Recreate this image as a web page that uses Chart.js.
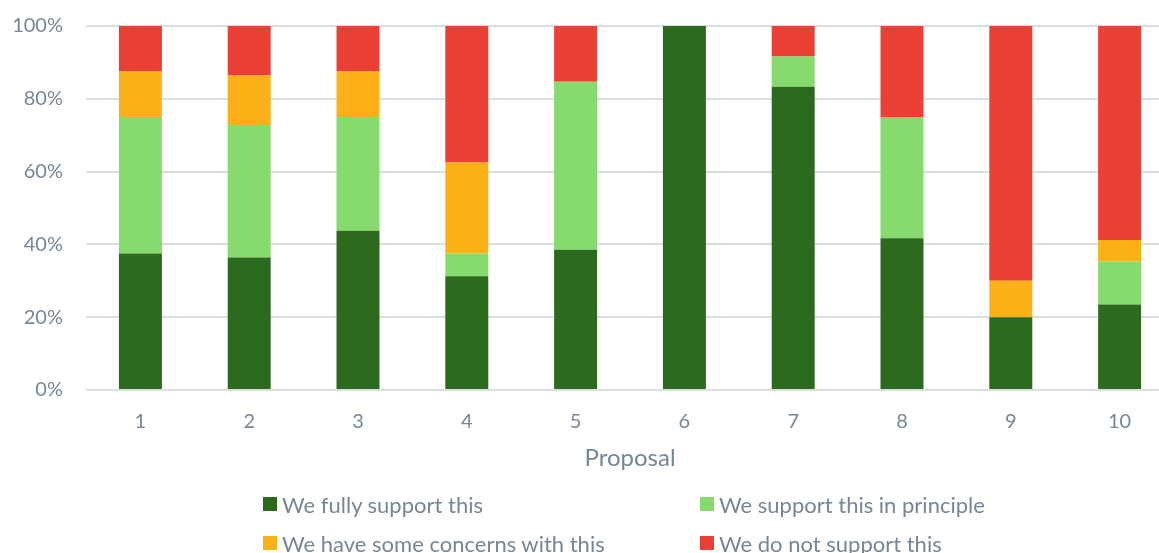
<!DOCTYPE html>
<html><head><meta charset="utf-8">
<script src="https://cdn.jsdelivr.net/npm/chart.js@4"></script>
<style>
html,body{margin:0;padding:0;background:#fff;overflow:hidden;width:1159px;height:553px;}
#wrap{position:absolute;left:0;top:-9px;width:1180px;height:562px;}
#legend{position:absolute;left:0;top:0;width:1159px;height:553px;pointer-events:none;font-family:Lato,sans-serif;font-size:22px;color:#758797;}
.li{position:absolute;display:flex;align-items:center;white-space:nowrap;}
.sw{width:14px;height:14px;margin-right:5px;display:inline-block;}
</style></head>
<body>
<div id="wrap"><canvas id="c" width="1180" height="562"></canvas></div>
<div id="legend"></div>
<script>
const categories = ['1','2','3','4','5','6','7','8','9','10'];
const seriesNames = ['We fully support this','We support this in principle','We have some concerns with this','We do not support this'];
const fullySupport = [37.5, 36.4, 43.75, 31.25, 38.5, 100, 83.3, 41.7, 20, 23.5];
const supportPrinciple = [37.5, 36.4, 31.25, 6.25, 46.2, 0, 8.35, 33.3, 0, 11.8];
const someConcerns = [12.5, 13.6, 12.5, 25, 0, 0, 0, 0, 10, 5.9];
const notSupport = [12.5, 13.6, 12.5, 37.5, 15.3, 0, 8.35, 25, 70, 58.8];
const yTicks = [0, 20, 40, 60, 80, 100];
const colors = ['#2c6a1d', '#86da6e', '#fdb118', '#ea4035'];
const seriesData = [fullySupport, supportPrinciple, someConcerns, notSupport];

const fontFam = 'Lato, sans-serif';
const tickColor = '#758797';

const chart = new Chart(document.getElementById('c'), {
  type: 'bar',
  data: {
    labels: categories,
    datasets: seriesNames.map((n, i) => ({
      label: n, data: seriesData[i], backgroundColor: colors[i], borderWidth: 0,
      categoryPercentage: 0.395, barPercentage: 1
    }))
  },
  options: {
    responsive: false, animation: false,
    layout: { padding: { top: 6, bottom: 80.6, left: 0, right: 6 } },
    plugins: { legend: { display: false }, tooltip: { enabled: false } },
    scales: {
      x: {
        stacked: true,
        afterFit: s => { s.height = 82.4; },
        grid: { display: false, drawTicks: false },
        border: { display: false },
        ticks: { color: tickColor, font: { family: fontFam, size: 20 }, padding: 20 },
        title: { display: true, text: 'Proposal', color: tickColor, font: { family: fontFam, size: 24 }, padding: { top: 0, bottom: 0 } }
      },
      y: {
        stacked: true, min: 0, max: 100,
        afterFit: s => { s.width = 86; },
        afterBuildTicks: s => { s.ticks = yTicks.map(v => ({ value: v })); },
        grid: { color: '#d9dee3', lineWidth: 2, drawTicks: false },
        border: { display: false },
        ticks: { color: tickColor, font: { family: fontFam, size: 20 }, padding: 23, callback: v => v + '%' }
      }
    }
  }
});

const legendPos = [[263, 504], [700, 504], [263, 543], [700, 543]];
const lg = document.getElementById('legend');
seriesNames.forEach((n, i) => {
  const d = document.createElement('div');
  d.className = 'li';
  d.style.left = legendPos[i][0] + 'px';
  d.style.top = (legendPos[i][1] - 13) + 'px';
  d.style.height = '26px';
  d.innerHTML = '<span class="sw" style="background:' + colors[i] + '"></span><span>' + n + '</span>';
  lg.appendChild(d);
});
</script>
</body></html>
